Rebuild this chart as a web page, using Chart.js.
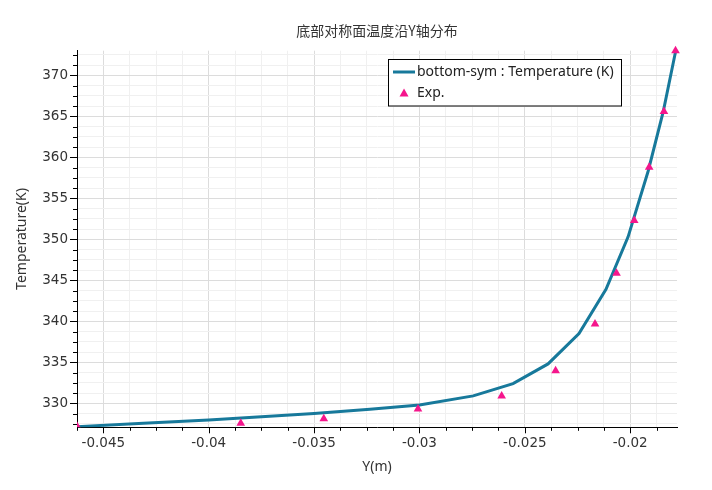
<!DOCTYPE html>
<html>
<head>
<meta charset="utf-8">
<script src="https://cdn.jsdelivr.net/npm/chart.js@4.4.1/dist/chart.umd.min.js"></script>
<style>
html, body { margin: 0; padding: 0; background: #fff; }
</style>
</head>
<body>
<canvas id="graph" width="712" height="490"></canvas>
<script>
// simulated profile (bottom-sym)
const lineX = [-0.04625, -0.0431, -0.04, -0.0375, -0.035, -0.03235, -0.03, -0.02745, -0.02556, -0.0239, -0.02243, -0.02115, -0.0201, -0.01915, -0.01843, -0.01784];
const lineT = [327.15, 327.55, 327.97, 328.37, 328.76, 329.27, 329.8, 330.9, 332.4, 334.8, 338.5, 343.9, 350.3, 358.3, 365.6, 373.0];

// experiment
const expX = [-0.04625, -0.03848, -0.03454, -0.03007, -0.0261, -0.02354, -0.02167, -0.02065, -0.01981, -0.0191, -0.0184, -0.01785];
const expT = [327.2, 327.56, 328.1, 329.3, 330.9, 333.98, 339.67, 345.85, 352.3, 358.8, 365.6, 373.0];

const xTicks = [-0.045, -0.04, -0.035, -0.03, -0.025, -0.02];
const yTicks = [330, 335, 340, 345, 350, 355, 360, 365, 370];

const titleText = '底部对称面温度沿Y轴分布';
const lineColor = '#17799b';
const expColor = '#f5168c';

function isMajor(v, list) {
    return list.some(t => Math.abs(t - v) < 1e-7);
}

function minorTicks(min, max, step) {
    let out = [];
    let k = Math.ceil(min / step - 1e-6);
    for (let v = k * step; v <= max + 1e-9; v = (++k) * step) {
        out.push({ value: +v.toFixed(6) });
    }
    return out;
}

// title, tick marks (long for major, short for minor) and boxed legend
const decor = {
    id: 'decor',
    afterDraw(chart) {
        const ctx = chart.ctx;
        const area = chart.chartArea;
        const sx = chart.scales.x, sy = chart.scales.y;
        ctx.save();

        ctx.fillStyle = '#333';
        ctx.font = '14px "Noto Sans CJK SC", "Noto Sans"';
        ctx.textAlign = 'center';
        ctx.textBaseline = 'middle';
        ctx.fillText(titleText, (area.left + area.right) / 2, 31);

        ctx.strokeStyle = '#000';
        ctx.lineWidth = 1;
        ctx.beginPath();
        sx.ticks.forEach(t => {
            const px = Math.round(sx.getPixelForValue(t.value)) + 0.5;
            const len = isMajor(t.value, xTicks) ? 6 : 3.5;
            ctx.moveTo(px, area.bottom);
            ctx.lineTo(px, area.bottom + len);
        });
        sy.ticks.forEach(t => {
            const py = Math.round(sy.getPixelForValue(t.value)) + 0.5;
            const len = isMajor(t.value, yTicks) ? 7 : 4;
            ctx.moveTo(area.left, py);
            ctx.lineTo(area.left - len, py);
        });
        ctx.stroke();

        ctx.textAlign = 'left';
        ctx.fillStyle = '#fff';
        ctx.fillRect(388.5, 59.5, 233, 46.5);
        ctx.strokeStyle = '#000';
        ctx.strokeRect(388.5, 59.5, 233, 46.5);

        ctx.strokeStyle = lineColor;
        ctx.lineWidth = 3;
        ctx.beginPath();
        ctx.moveTo(393, 72);
        ctx.lineTo(415, 72);
        ctx.stroke();

        ctx.fillStyle = expColor;
        ctx.beginPath();
        ctx.moveTo(404, 88.5);
        ctx.lineTo(408.5, 96.5);
        ctx.lineTo(399.5, 96.5);
        ctx.closePath();
        ctx.fill();

        ctx.fillStyle = '#222';
        ctx.font = '14px "Noto Sans"';
        ctx.fillText(chart.data.datasets[1].label, 417, 72);
        ctx.fillText(chart.data.datasets[0].label, 417, 93);
        ctx.restore();
    }
};

const graph = document.getElementById('graph');
const ctx = graph.getContext('2d');

let myChart = new Chart(ctx, {
    type: 'scatter',
    data: {
        datasets: [
            {
                label: 'Exp.',
                data: expX.map((x, i) => ({ x: x, y: expT[i] })),
                pointStyle: 'triangle',
                pointRadius: 5,
                pointBackgroundColor: expColor,
                pointBorderColor: expColor,
                pointBorderWidth: 0,
                showLine: false,
                order: 0,
                clip: { left: 0, top: 10, right: 10, bottom: 0 }
            },
            {
                label: 'bottom-sym : Temperature (K)',
                data: lineX.map((x, i) => ({ x: x, y: lineT[i] })),
                showLine: true,
                borderColor: lineColor,
                borderWidth: 3,
                pointRadius: 0,
                tension: 0,
                order: 1
            }
        ]
    },
    options: {
        responsive: false,
        animation: false,
        layout: { padding: { left: 0, right: 35, top: 50.7, bottom: 0 } },
        plugins: {
            legend: { display: false },
            tooltip: { enabled: false },
            title: { display: false }
        },
        scales: {
            x: {
                type: 'linear',
                min: -0.04625,
                max: -0.01778,
                afterBuildTicks: s => { s.ticks = minorTicks(s.min, s.max, 0.00125); },
                afterFit: s => { s.height = 62.7; },
                ticks: {
                    autoSkip: false,
                    maxRotation: 0,
                    padding: 8,
                    color: '#333',
                    font: { family: '"DejaVu Sans"', size: 13.5 },
                    callback: v => isMajor(v, xTicks) ? String(xTicks.find(t => Math.abs(t - v) < 1e-7)) : ''
                },
                grid: {
                    color: c => (c.tick && isMajor(c.tick.value, xTicks)) ? '#dcdcdc' : '#f0f0f0',
                    drawTicks: false
                },
                border: { color: '#000', width: 1 },
                title: {
                    display: true,
                    text: 'Y(m)',
                    color: '#333',
                    font: { family: '"Noto Sans"', size: 14 },
                    padding: { top: 0, bottom: 14.1 }
                }
            },
            y: {
                type: 'linear',
                min: 327.07,
                max: 373.0,
                afterBuildTicks: s => { s.ticks = minorTicks(s.min, s.max, 1.25); },
                afterFit: s => { s.width = 77; },
                ticks: {
                    autoSkip: false,
                    padding: 9,
                    color: '#333',
                    font: { family: '"DejaVu Sans"', size: 13.5 },
                    callback: v => isMajor(v, yTicks) ? String(v) : ''
                },
                grid: {
                    color: c => (c.tick && isMajor(c.tick.value, yTicks)) ? '#dcdcdc' : '#f0f0f0',
                    drawTicks: false
                },
                border: { color: '#000', width: 1 },
                title: {
                    display: true,
                    text: 'Temperature(K)',
                    color: '#333',
                    font: { family: '"Noto Sans"', size: 14 },
                    padding: { top: 13.9, bottom: 0 }
                }
            }
        }
    },
    plugins: [decor]
});
</script>
</body>
</html>
